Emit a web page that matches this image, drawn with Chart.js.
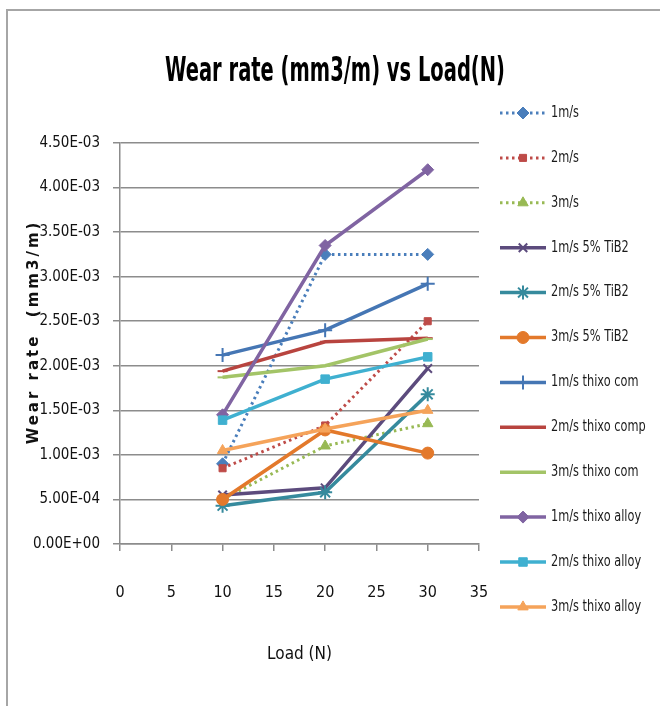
<!DOCTYPE html>
<html>
<head>
<meta charset="utf-8">
<script src="https://cdn.jsdelivr.net/npm/chart.js@4/dist/chart.umd.min.js"></script>
<style>
  body { margin: 0; background: #fff; }
  #frame { position: absolute; left: 6px; top: 9px; width: 700px; height: 720px;
           border-top: 2px solid #a6a6a6; border-left: 2px solid #a6a6a6; }
  #c { position: absolute; left: 0; top: 0; }
</style>
</head>
<body>
<div id="frame"></div>
<canvas id="c" width="660" height="706"></canvas>
<script>
var chartTitle = "Wear rate (mm3/m) vs Load(N)";
var yTitle = "Wear rate  (mm3/m)";
var xTitle = "Load (N)";

var loads = [10, 20, 30];

var seriesNames = ["1m/s", "2m/s", "3m/s", "1m/s 5% TiB2", "2m/s 5% TiB2", "3m/s 5% TiB2",
    "1m/s thixo com", "2m/s thixo comp", "3m/s thixo com",
    "1m/s thixo alloy", "2m/s thixo alloy", "3m/s thixo alloy"];

var wear1 = [0.90e-3, 3.25e-3, 3.25e-3];
var wear2 = [0.85e-3, 1.33e-3, 2.50e-3];
var wear3 = [0.50e-3, 1.10e-3, 1.35e-3];
var wear4 = [0.55e-3, 0.63e-3, 1.97e-3];
var wear5 = [0.43e-3, 0.58e-3, 1.68e-3];
var wear6 = [0.50e-3, 1.28e-3, 1.02e-3];
var wear7 = [2.12e-3, 2.40e-3, 2.92e-3];
var wear8 = [1.94e-3, 2.27e-3, 2.31e-3];
var wear9 = [1.87e-3, 2.00e-3, 2.30e-3];
var wear10 = [1.45e-3, 3.35e-3, 4.20e-3];
var wear11 = [1.39e-3, 1.85e-3, 2.10e-3];
var wear12 = [1.05e-3, 1.29e-3, 1.50e-3];

var allWear = [wear1, wear2, wear3, wear4, wear5, wear6, wear7, wear8, wear9, wear10, wear11, wear12];

var colors = ["#4A7EBB", "#BE4B48", "#98B954", "#5C4B7D", "#368A9D", "#E3792B",
    "#4576B4", "#B8443F", "#A3C467", "#8064A2", "#3FB0D0", "#F5A35A"];
var markers = ["rectRot", "rect", "triangle", "crossRot", "star", "circle",
    "cross", "line", "line", "rectRot", "rect", "triangle"];
var markerSize = [6, 5, 6, 6, 7, 6, 7, 5, 5, 6, 6, 6];
var dotted = [true, true, true, false, false, false, false, false, false, false, false, false];

var narrow = '"Liberation Sans Narrow", "DejaVu Sans Condensed", sans-serif';

function sci(v) {
    var parts = Number(v).toExponential(2).split("e");
    var n = parseInt(parts[1], 10);
    return parts[0] + "E" + (n < 0 ? "-" : "+") + String(Math.abs(n)).padStart(2, "0");
}

var datasets = seriesNames.map(function (name, i) {
    return {
        label: name,
        data: loads.map(function (x, j) { return { x: x, y: allWear[i][j] }; }),
        showLine: true,
        borderColor: colors[i],
        backgroundColor: colors[i],
        borderWidth: dotted[i] ? 3 : 3.5,
        borderDash: dotted[i] ? [2.5, 3.5] : [],
        pointStyle: markers[i],
        pointRadius: markerSize[i],
        pointBorderWidth: (markers[i] == "crossRot" || markers[i] == "star" || markers[i] == "cross" || markers[i] == "line") ? 2 : 1,
        pointBorderColor: colors[i],
        pointBackgroundColor: colors[i],
        order: seriesNames.length - i
    };
});

var decor = {
    id: "decor",
    afterDraw: function (chart) {
        var ctx = chart.ctx, area = chart.chartArea;

        // chart title
        ctx.save();
        ctx.font = "bold 33px " + narrow;
        ctx.fillStyle = "#000";
        ctx.textAlign = "center";
        ctx.textBaseline = "middle";
        var w = ctx.measureText(chartTitle).width;
        ctx.translate(335, 72);
        ctx.scale(Math.min(1, 340 / w), 1);
        ctx.fillText(chartTitle, 0, 0);
        ctx.restore();

        // y axis title
        ctx.save();
        ctx.translate(34, 332);
        ctx.rotate(-Math.PI / 2);
        ctx.font = 'bold 15px "DejaVu Sans", sans-serif';
        ctx.letterSpacing = "3px";
        ctx.fillStyle = "#111";
        ctx.textAlign = "center";
        ctx.textBaseline = "middle";
        ctx.fillText(yTitle, 0, 0);
        ctx.restore();

        // legend
        var x0 = area.right + 21;
        chart.data.datasets.forEach(function (ds, i) {
            var y = area.top - 30 + i * 44.9;
            ctx.save();
            ctx.strokeStyle = ds.borderColor;
            ctx.lineWidth = ds.borderWidth;
            ctx.setLineDash(ds.borderDash);
            ctx.beginPath();
            ctx.moveTo(x0, y);
            ctx.lineTo(x0 + 46, y);
            ctx.stroke();
            ctx.setLineDash([]);
            ctx.fillStyle = ds.pointBackgroundColor;
            ctx.strokeStyle = ds.pointBorderColor;
            ctx.lineWidth = ds.pointBorderWidth;
            Chart.helpers.drawPoint(ctx, {
                pointStyle: ds.pointStyle, rotation: 0,
                radius: ds.pointRadius, borderWidth: ds.pointBorderWidth
            }, x0 + 23, y);
            ctx.translate(x0 + 51, y);
            ctx.scale(0.84, 1);
            ctx.font = "15px " + narrow;
            ctx.fillStyle = "#1a1a1a";
            ctx.textAlign = "left";
            ctx.textBaseline = "middle";
            ctx.fillText(ds.label, 0, 0);
            ctx.restore();
        });
    }
};

new Chart(document.getElementById("c"), {
    type: "scatter",
    data: { datasets: datasets },
    plugins: [decor],
    options: {
        responsive: false,
        animation: false,
        devicePixelRatio: 1,
        layout: { padding: { top: 143, right: 181, left: 0, bottom: 0 } },
        plugins: { legend: { display: false }, tooltip: { enabled: false } },
        scales: {
            x: {
                type: "linear",
                min: 0, max: 35,
                afterFit: function (s) { s.height = 162; },
                ticks: { stepSize: 5, padding: 32, color: "#111", font: { family: narrow, size: 16 } },
                grid: { drawOnChartArea: false, drawTicks: true, tickLength: 7, color: "#8c8c8c", lineWidth: 1.5 },
                border: { display: true, color: "#8c8c8c", width: 1.5 },
                title: { display: true, text: xTitle, color: "#111", font: { family: narrow, size: 17 }, padding: { top: 0, bottom: 41 } }
            },
            y: {
                min: 0, max: 0.0045,
                afterFit: function (s) { s.width = 120; },
                ticks: {
                    stepSize: 0.0005, padding: 13, color: "#111",
                    font: { family: narrow, size: 15 },
                    callback: function (v) { return sci(v); }
                },
                grid: { color: "#8c8c8c", lineWidth: 1.5, tickLength: 7 },
                border: { display: true, color: "#8c8c8c", width: 1.5 }
            }
        }
    }
});
</script>
</body>
</html>
